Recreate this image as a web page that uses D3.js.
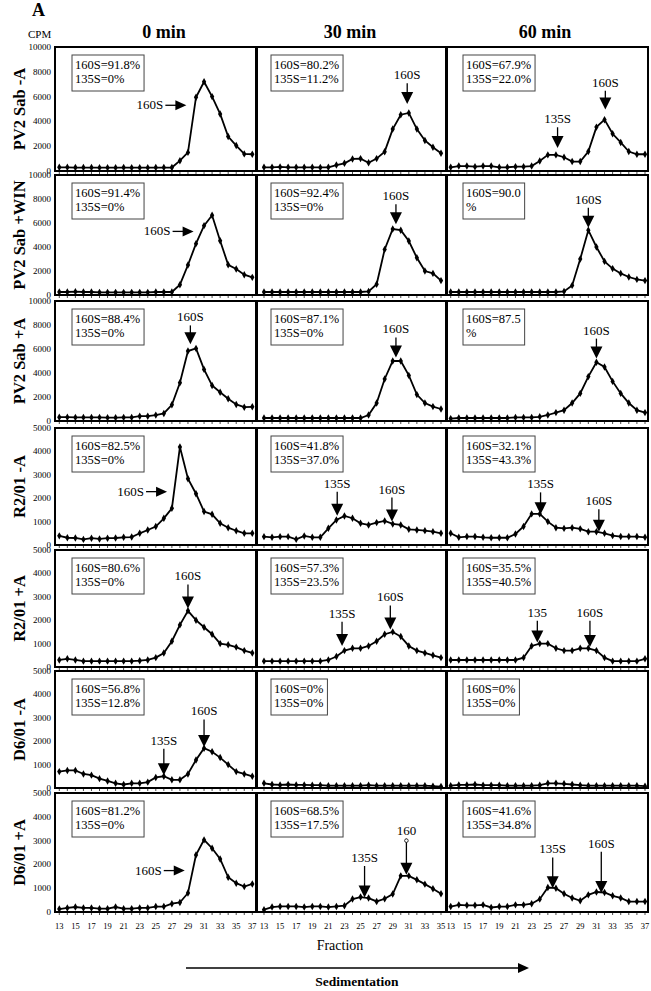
<!DOCTYPE html>
<html><head><meta charset="utf-8">
<script src="https://cdn.jsdelivr.net/npm/d3@7"></script>
<style>
body{margin:0;background:#fff}
svg{display:block}
</style></head>
<body><svg id="c" width="651" height="991"></svg>
<script>
// ---------------- data ----------------
const timeLabels = ["0 min", "30 min", "60 min"];
const sampleLabels = ["PV2 Sab -A", "PV2 Sab +WIN", "PV2 Sab +A", "R2/01 -A", "R2/01 +A", "D6/01 -A", "D6/01 +A"];
const yMaxByRow = [10000, 10000, 10000, 5000, 5000, 5000, 5000];
const yTicksHigh = [0, 2000, 4000, 6000, 8000, 10000];
const yTicksLow = [0, 1000, 2000, 3000, 4000, 5000];
const xTickLabelsFull = [13, 15, 17, 19, 21, 23, 25, 27, 29, 31, 33, 35, 37];
const xTickLabelsCol2 = [13, 15, 17, 19, 21, 23, 25, 27, 29, 31, 33, 35];

// CPM per fraction (fractions start at 13)
const pv2SabMinusA_0  = [300,300,280,280,280,270,270,270,280,270,270,270,280,280,280,830,1500,5950,7200,6000,4600,2780,2050,1380,1350];
const pv2SabMinusA_30 = [300,300,330,300,300,300,300,290,300,480,620,970,1000,670,1000,1560,3380,4540,4680,3380,2460,1920,1430];
const pv2SabMinusA_60 = [300,400,400,350,400,400,300,300,350,350,400,810,1300,1300,1110,760,760,1570,3540,4140,3000,2300,1570,1350,1350];
const pv2SabWin_0  = [250,250,280,250,250,220,220,220,220,220,220,220,250,250,250,860,2500,4280,5780,6640,4520,2520,2160,1690,1470];
const pv2SabWin_30 = [250,250,250,250,250,250,250,250,250,250,250,250,250,300,900,3800,5500,5400,4500,3100,2000,1800,1200];
const pv2SabWin_60 = [250,250,250,250,250,250,250,250,250,250,250,250,250,250,300,800,3000,5400,4000,2800,2200,1800,1500,1300,1200];
const pv2SabPlusA_0  = [320,320,300,300,300,300,280,280,300,300,400,400,490,630,1350,3190,5830,6050,4300,2960,2400,1850,1380,1150,1180];
const pv2SabPlusA_30 = [250,250,250,250,250,250,250,250,250,250,250,250,250,500,1500,3500,5000,5000,3800,2200,1500,1200,1000];
const pv2SabPlusA_60 = [200,250,250,250,250,250,250,250,300,300,300,350,500,700,900,1500,2300,3700,4900,4500,3300,2300,1500,900,700];
const r2MinusA_0  = [390,310,300,240,290,260,290,300,330,340,500,640,790,1140,1570,4190,2830,2190,1430,1310,930,740,610,500,500];
const r2MinusA_30 = [357,328,357,357,243,386,328,328,714,1071,1243,1143,928,857,957,1028,900,857,671,643,614,571,500];
const r2MinusA_60 = [500,330,360,360,330,310,310,310,470,790,1330,1330,1000,740,710,740,690,570,570,500,400,360,360,360,330];
const r2PlusA_0  = [300,350,300,250,250,250,250,250,250,250,270,300,400,600,1100,1800,2400,2000,1700,1400,1000,950,850,700,600];
const r2PlusA_30 = [250,250,250,250,250,250,250,250,300,450,700,800,800,900,1100,1400,1500,1300,900,700,600,500,400];
const r2PlusA_60 = [300,300,300,300,300,300,300,300,300,400,900,1000,1000,800,700,700,800,800,700,400,250,250,250,250,350];
const d6MinusA_0  = [700,750,750,600,550,400,300,200,150,200,200,250,450,500,350,350,600,1200,1700,1550,1300,1000,700,600,500];
const d6MinusA_30 = [200,150,130,150,130,130,120,120,100,100,100,100,100,120,100,100,100,100,100,100,100,80,60];
const d6MinusA_60 = [100,130,130,150,120,120,120,100,100,100,100,120,200,200,180,150,120,100,100,100,100,100,100,100,80];
const d6PlusA_0  = [125,170,210,170,170,140,140,210,140,140,170,170,230,230,350,400,800,2400,3030,2680,2230,1460,1210,1070,1180];
const d6PlusA_30 = [96,209,234,234,234,209,234,234,209,234,264,544,628,586,444,556,753,1519,1519,1351,1171,975,766];
const d6PlusA_60 = [230,300,280,280,300,190,230,230,300,300,350,540,1030,1000,770,590,470,720,840,820,680,590,440,440,440];

const seriesGrid = [
  [pv2SabMinusA_0, pv2SabMinusA_30, pv2SabMinusA_60],
  [pv2SabWin_0, pv2SabWin_30, pv2SabWin_60],
  [pv2SabPlusA_0, pv2SabPlusA_30, pv2SabPlusA_60],
  [r2MinusA_0, r2MinusA_30, r2MinusA_60],
  [r2PlusA_0, r2PlusA_30, r2PlusA_60],
  [d6MinusA_0, d6MinusA_30, d6MinusA_60],
  [d6PlusA_0, d6PlusA_30, d6PlusA_60]
];

// percentage boxes
const boxTexts = [
  [["160S=91.8%","135S=0%"], ["160S=80.2%","135S=11.2%"], ["160S=67.9%","135S=22.0%"]],
  [["160S=91.4%","135S=0%"], ["160S=92.4%","135S=0%"], ["160S=90.0","%"]],
  [["160S=88.4%","135S=0%"], ["160S=87.1%","135S=0%"], ["160S=87.5","%"]],
  [["160S=82.5%","135S=0%"], ["160S=41.8%","135S=37.0%"], ["160S=32.1%","135S=43.3%"]],
  [["160S=80.6%","135S=0%"], ["160S=57.3%","135S=23.5%"], ["160S=35.5%","135S=40.5%"]],
  [["160S=56.8%","135S=12.8%"], ["160S=0%","135S=0%"], ["160S=0%","135S=0%"]],
  [["160S=81.2%","135S=0%"], ["160S=68.5%","135S=17.5%"], ["160S=41.6%","135S=34.8%"]]
];

// arrow annotations in data units: tip (f, v); label value for down arrows
const arrows = [
  {row:0,col:0,label:"160S",dir:"right",f:28.8,v:5300},
  {row:0,col:1,label:"160S",dir:"down",f:30.8,v:5400,tv:7400},
  {row:0,col:2,label:"135S",dir:"down",f:26.2,v:1850,tv:3850},
  {row:0,col:2,label:"160S",dir:"down",f:32.1,v:4950,tv:6800},
  {row:1,col:0,label:"160S",dir:"right",f:29.7,v:5300},
  {row:1,col:1,label:"160S",dir:"down",f:29.4,v:5900,tv:7900},
  {row:1,col:2,label:"160S",dir:"down",f:30.0,v:5600,tv:7600},
  {row:2,col:0,label:"160S",dir:"down",f:29.3,v:6400,tv:8300},
  {row:2,col:1,label:"160S",dir:"down",f:29.4,v:5300,tv:7300},
  {row:2,col:2,label:"160S",dir:"down",f:31.0,v:5200,tv:7200},
  {row:3,col:0,label:"160S",dir:"right",f:26.4,v:2280},
  {row:3,col:1,label:"135S",dir:"down",f:22.1,v:1250,tv:2450},
  {row:3,col:1,label:"160S",dir:"down",f:28.9,v:1000,tv:2200},
  {row:3,col:2,label:"135S",dir:"down",f:24.1,v:1310,tv:2420},
  {row:3,col:2,label:"160S",dir:"down",f:31.3,v:570,tv:1700},
  {row:4,col:0,label:"160S",dir:"down",f:29.0,v:2500,tv:3700},
  {row:4,col:1,label:"135S",dir:"down",f:22.7,v:900,tv:2100},
  {row:4,col:1,label:"160S",dir:"down",f:28.7,v:1600,tv:2800},
  {row:4,col:2,label:"135",dir:"down",f:23.7,v:1050,tv:2150},
  {row:4,col:2,label:"160S",dir:"down",f:30.2,v:850,tv:2150},
  {row:5,col:0,label:"135S",dir:"down",f:26.0,v:550,tv:1850},
  {row:5,col:0,label:"160S",dir:"down",f:31.0,v:1750,tv:3100},
  {row:6,col:0,label:"160S",dir:"right",f:28.6,v:1740},
  {row:6,col:1,label:"135S",dir:"down",f:25.5,v:610,tv:2100},
  {row:6,col:1,label:"160",dir:"down",f:30.7,v:1560,tv:3250,circle:true},
  {row:6,col:2,label:"135S",dir:"down",f:25.6,v:1000,tv:2460},
  {row:6,col:2,label:"160S",dir:"down",f:31.6,v:800,tv:2700}
];

// ---------------- layout ----------------
const colFrames = [[55,256],[257,446],[447,648]];
const colRanges = [[59.3,252.3],[264,441],[450.7,645]];
const rowFrames = [[47,171],[175,295],[301,421],[428,545],[550,667],[671,788],[793,912]];
const boxOffsets = [17,14,16];
const serif = '"Liberation Serif", "Times New Roman", Times, "DejaVu Serif", serif';

const svg = d3.select("#c").attr("font-family", serif);

svg.append("text").attr("x",32).attr("y",16).attr("font-size",18).attr("font-weight","bold").text("A");
svg.append("text").attr("x",28).attr("y",38).attr("font-size",11).text("CPM");
const headerX = [164, 350, 545];
timeLabels.forEach((t,i)=>{
  svg.append("text").attr("x",headerX[i]).attr("y",38).attr("text-anchor","middle")
    .attr("font-size",18).attr("font-weight","bold").text(t);
});

sampleLabels.forEach((s,r)=>{
  const [y0,y1] = rowFrames[r];
  const cy = (y0+y1)/2;
  svg.append("text").attr("transform",`translate(25,${cy}) rotate(-90)`)
    .attr("text-anchor","middle").attr("font-size",16.5).attr("font-weight","bold").text(s);
});

const xScales = [];
seriesGrid.forEach((rowSeries,r)=>{
  const [y0,y1] = rowFrames[r];
  const y = d3.scaleLinear().domain([0,yMaxByRow[r]]).range([y1,y0]);
  const ticks = yMaxByRow[r] === 10000 ? yTicksHigh : yTicksLow;
  svg.append("g").selectAll("text").data(ticks).join("text")
    .attr("x",51).attr("y",d=>y(d)+3).attr("text-anchor","end").attr("font-size",9)
    .text(d=>d);

  rowSeries.forEach((vals,c)=>{
    const [x0,x1] = colFrames[c];
    const n = vals.length;
    const fr = d3.range(13, 13+n);
    const x = d3.scaleLinear().domain([13, 13+n-1]).range(colRanges[c]);
    if (r === 6) xScales[c] = {x, fr};
    const g = svg.append("g");
    g.selectAll("line.tk").data(fr).join("line")
      .attr("x1",d=>x(d)).attr("x2",d=>x(d)).attr("y1",y1).attr("y2",y1+3)
      .attr("stroke","#000").attr("stroke-width",0.7);
    g.append("rect").attr("x",x0).attr("y",y0).attr("width",x1-x0).attr("height",y1-y0)
      .attr("fill","none").attr("stroke","#000").attr("stroke-width",2);
    const line = d3.line().x((d,i)=>x(fr[i])).y(d=>y(d));
    g.append("path").attr("d",line(vals)).attr("fill","none").attr("stroke","#000").attr("stroke-width",1.8);
    g.selectAll("path.m").data(vals).join("path").attr("class","m")
      .attr("transform",(d,i)=>`translate(${x(fr[i])},${y(d)})`)
      .attr("d",d3.symbol(d3.symbolDiamond,16)).attr("fill","#000");
    const lines = boxTexts[r][c];
    const bx = x0 + boxOffsets[c], by = y0 + 8;
    const tg = g.append("g");
    const tt = tg.selectAll("text").data(lines).join("text")
      .attr("x",bx+3).attr("y",(d,i)=>by+14+i*14).attr("font-size",12.5).text(d=>d);
    let w = 0; tt.each(function(){ w = Math.max(w,this.getComputedTextLength()); });
    tg.insert("rect","text").attr("x",bx).attr("y",by).attr("width",Math.max(w+7,56)).attr("height",36)
      .attr("fill","#fff").attr("stroke","#444").attr("stroke-width",1);

    arrows.filter(a=>a.row===r && a.col===c).forEach(a=>{
      const tx = x(a.f), ty = y(a.v);
      if (a.dir === "down") {
        const ly = y(a.tv);
        g.append("line").attr("x1",tx).attr("x2",tx).attr("y1",ly+4).attr("y2",ty-10)
          .attr("stroke","#000").attr("stroke-width",1.3);
        g.append("path").attr("d",`M${tx-6},${ty-12}L${tx+6},${ty-12}L${tx},${ty}Z`).attr("fill","#000");
        g.append("text").attr("x",tx).attr("y",ly).attr("text-anchor","middle").attr("font-size",13).text(a.label);
        if (a.circle) g.append("circle").attr("cx",tx).attr("cy",ly+6).attr("r",1.8)
          .attr("fill","#fff").attr("stroke","#000").attr("stroke-width",0.8);
      } else {
        g.append("line").attr("x1",tx-21).attr("x2",tx-9).attr("y1",ty).attr("y2",ty)
          .attr("stroke","#000").attr("stroke-width",1.3);
        g.append("path").attr("d",`M${tx-11},${ty-5}L${tx-11},${ty+5}L${tx},${ty}Z`).attr("fill","#000");
        g.append("text").attr("x",tx-23).attr("y",ty+4).attr("text-anchor","end").attr("font-size",13).text(a.label);
      }
    });
  });
});

const tickSets = [xTickLabelsFull, xTickLabelsCol2, xTickLabelsFull];
tickSets.forEach((ts,c)=>{
  const {x} = xScales[c];
  svg.append("g").selectAll("text").data(ts).join("text")
    .attr("x",d=>x(d)).attr("y",929).attr("text-anchor","middle").attr("font-size",8.5).text(d=>d);
});

svg.append("text").attr("x",340).attr("y",950).attr("text-anchor","middle").attr("font-size",14).text("Fraction");
svg.append("line").attr("x1",186).attr("x2",520).attr("y1",968).attr("y2",968).attr("stroke","#000").attr("stroke-width",1.5);
svg.append("path").attr("d","M518,963L529,968L518,973Z").attr("fill","#000");
svg.append("text").attr("x",357).attr("y",986).attr("text-anchor","middle").attr("font-size",13.5).attr("font-weight","bold").text("Sedimentation");
</script></body></html>
